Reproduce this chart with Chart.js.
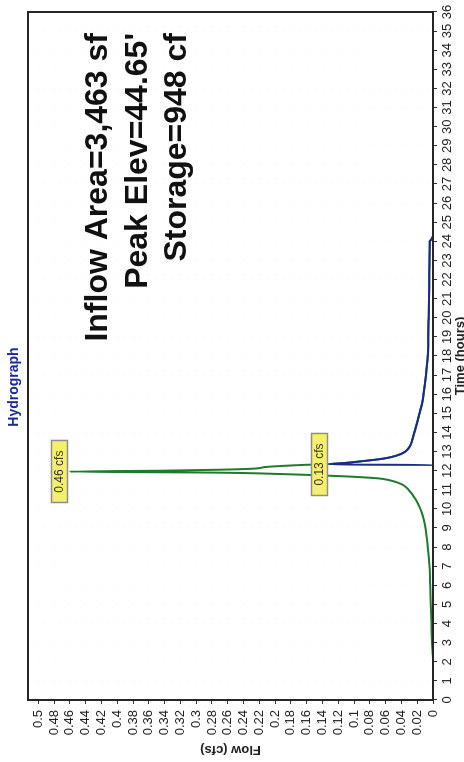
<!DOCTYPE html>
<html>
<head>
<meta charset="utf-8">
<title>Hydrograph</title>
<script src="https://cdn.jsdelivr.net/npm/chart.js@4/dist/chart.umd.min.js"></script>
<style>
  html, body { margin: 0; padding: 0; background: #fff; overflow: hidden; width: 464px; height: 762px; }
  /* the landscape chart is turned a quarter turn counter-clockwise onto the portrait page */
  #wrap {
    position: absolute; left: 0; top: 0;
    width: 762px; height: 472px;
    transform-origin: 0 0;
    transform: translate(0px, 762px) rotate(-90deg);
    background: #fff;
  }
  canvas { display: block; }
</style>
</head>
<body>
<div id="wrap"><canvas id="chart" width="762" height="472"></canvas></div>
<script>
// Inflow hydrograph (hours, cfs)
const inflowTime = [0, 1, 2, 2.5, 3, 4, 5, 6, 7, 8, 9, 9.5, 10, 10.5, 11, 11.3, 11.5, 11.6, 11.7, 11.75, 11.82, 11.9, 11.95,
  12.0, 12.05, 12.1, 12.2, 12.3, 12.35, 12.4, 12.5, 12.6, 12.7, 12.85, 13, 13.3, 13.8, 14.7, 15.5, 16, 17, 18, 19, 20, 21, 22, 23, 24, 24.1, 24.3, 36];
const inflowFlow = [0, 0, 0, 0.0005, 0.0012, 0.002, 0.0028, 0.0035, 0.0045, 0.0065, 0.0095, 0.012, 0.016, 0.022, 0.031, 0.040, 0.055, 0.07, 0.11, 0.14, 0.19, 0.28, 0.46,
  0.34, 0.27, 0.23, 0.21, 0.165, 0.13, 0.112, 0.089, 0.068, 0.054, 0.042, 0.035, 0.029, 0.025, 0.019, 0.014, 0.012, 0.009, 0.0068, 0.006, 0.0055, 0.0051, 0.0048, 0.0045, 0.0042, 0.002, 0, 0];

// Primary outflow hydrograph (hours, cfs)
const outflowTime = [0, 12.3, 12.32, 12.35, 12.4, 12.5, 12.6, 12.7, 12.85, 13, 13.3, 13.8, 14.7, 15.5, 16, 17, 18, 19, 20, 21, 22, 23, 24, 24.1, 24.3, 36];
const outflowFlow = [0, 0, 0.13, 0.13, 0.112, 0.089, 0.068, 0.054, 0.042, 0.035, 0.029, 0.025, 0.019, 0.014, 0.012, 0.009, 0.0068, 0.006, 0.0055, 0.0051, 0.0048, 0.0045, 0.0042, 0.002, 0, 0];

// Axis ticks
const timeTicks = Array.from({ length: 37 }, (_, i) => i);
const flowTicks = [0, 0.02, 0.04, 0.06, 0.08, 0.1, 0.12, 0.14, 0.16, 0.18, 0.2, 0.22, 0.24, 0.26, 0.28, 0.3,
  0.32, 0.34, 0.36, 0.38, 0.4, 0.42, 0.44, 0.46, 0.48, 0.5];

// Summary printed inside the plot
const summaryLines = ['Inflow Area=3,463 sf', "Peak Elev=44.65'", 'Storage=948 cf'];

const FONT = '"Liberation Sans", Arial, Helvetica, sans-serif';
const INFLOW_COLOR = '#1f7a2e';
const OUTFLOW_COLOR = '#1c2a8c';

const toPoints = (xs, ys) => xs.map((x, i) => ({ x, y: ys[i] }));

// frame around the plot area
const framePlugin = {
  id: 'frame',
  afterDatasetsDraw(chart) {
    const { ctx, chartArea: a } = chart;
    ctx.save();
    ctx.strokeStyle = '#262626';
    ctx.lineWidth = 2;
    ctx.strokeRect(a.left, a.top, a.right - a.left, a.bottom - a.top);
    ctx.restore();
  }
};

// large summary text, right aligned near the top right of the plot
const summaryPlugin = {
  id: 'summary',
  afterDatasetsDraw(chart) {
    const { ctx, chartArea: a } = chart;
    ctx.save();
    ctx.font = 'bold 32px ' + FONT;
    ctx.fillStyle = '#111';
    ctx.textAlign = 'right';
    ctx.textBaseline = 'alphabetic';
    const x = a.right - 21;
    const base = [a.top + 79, a.top + 119, a.top + 158];
    summaryLines.forEach((s, i) => ctx.fillText(s, x, base[i]));
    ctx.restore();
  }
};

// yellow peak flow tags above each hydrograph's maximum
const peakTagPlugin = {
  id: 'peakTags',
  afterDatasetsDraw(chart) {
    const { ctx } = chart;
    const xs = chart.scales.x, ys = chart.scales.y;
    ctx.save();
    ctx.font = '12px ' + FONT;
    ctx.textAlign = 'center';
    ctx.textBaseline = 'middle';
    chart.data.datasets.forEach((ds) => {
      let best = ds.data[0];
      ds.data.forEach(p => { if (p.y > best.y) best = p; });
      const label = best.y.toFixed(2) + ' cfs';
      const px = xs.getPixelForValue(best.x);
      const py = ys.getPixelForValue(best.y);
      const w = ctx.measureText(label).width + 20;
      const h = 16;
      const bx = Math.round(px - w / 2) + 0.5;
      const by = Math.round(py - 3 - h) + 0.5;
      ctx.fillStyle = '#f4ef6c';
      ctx.fillRect(bx, by, w, h);
      ctx.strokeStyle = '#8e8e8e';
      ctx.lineWidth = 1.5;
      ctx.strokeRect(bx, by, w, h);
      ctx.fillStyle = '#333';
      ctx.fillText(label, px, by + h / 2 + 0.5);
    });
    ctx.restore();
  }
};

const whiteBg = {
  id: 'whiteBg',
  beforeDraw(chart) {
    const { ctx, width, height } = chart;
    ctx.save();
    ctx.fillStyle = '#fff';
    ctx.fillRect(0, 0, width, height);
    ctx.restore();
  }
};

new Chart(document.getElementById('chart'), {
  type: 'line',
  data: {
    datasets: [
      {
        label: 'Primary',
        data: toPoints(outflowTime, outflowFlow),
        borderColor: OUTFLOW_COLOR,
        borderWidth: 2,
        pointRadius: 0,
        cubicInterpolationMode: 'monotone',
        fill: false
      },
      {
        label: 'Inflow',
        data: toPoints(inflowTime, inflowFlow),
        borderColor: INFLOW_COLOR,
        borderWidth: 2,
        pointRadius: 0,
        cubicInterpolationMode: 'monotone',
        fill: false
      }
    ]
  },
  options: {
    responsive: false,
    animation: false,
    events: [],
    layout: { padding: { left: 0, right: 12, top: 0, bottom: 0 } },
    plugins: {
      legend: { display: false },
      tooltip: { enabled: false },
      title: {
        display: true,
        text: 'Hydrograph',
        color: '#1c2a9a',
        font: { family: FONT, size: 14, weight: 'bold', lineHeight: 1.2 },
        padding: { top: 6, bottom: 5.2 }
      }
    },
    scales: {
      x: {
        type: 'linear',
        min: 0,
        max: 36,
        afterBuildTicks: (s) => { s.ticks = timeTicks.map(v => ({ value: v })); },
        afterFit: (s) => { s.height = 39; },
        ticks: {
          autoSkip: false,
          maxRotation: 0,
          padding: 3,
          color: '#222',
          font: { family: FONT, size: 13 },
          callback: (v) => String(v)
        },
        grid: { color: 'rgba(0,0,0,0.035)', tickLength: 4, tickColor: '#333', drawTicks: true },
        border: { display: true, color: '#1a1a1a', width: 2, dash: [1, 7] },
        title: {
          display: true,
          text: 'Time (hours)',
          color: '#222',
          font: { family: FONT, size: 13, weight: 'bold', lineHeight: 1.2 },
          padding: { top: 0, bottom: 4 }
        }
      },
      y: {
        type: 'linear',
        min: 0,
        max: 0.513,
        afterBuildTicks: (s) => { s.ticks = flowTicks.map(v => ({ value: v })); },
        afterFit: (s) => { s.width = 62; },
        ticks: {
          autoSkip: false,
          padding: 6,
          color: '#222',
          font: { family: FONT, size: 13 },
          callback: (v) => String(v)
        },
        grid: { color: 'rgba(0,0,0,0.035)', tickLength: 4, tickColor: '#333', drawTicks: true },
        border: { display: true, color: '#1a1a1a', width: 2, dash: [1, 7] },
        title: {
          display: true,
          text: 'Flow (cfs)',
          color: '#222',
          font: { family: FONT, size: 13, weight: 'bold', lineHeight: 1.2 },
          padding: { top: 5, bottom: 0 }
        }
      }
    }
  },
  plugins: [whiteBg, framePlugin, summaryPlugin, peakTagPlugin]
});
</script>
</body>
</html>
